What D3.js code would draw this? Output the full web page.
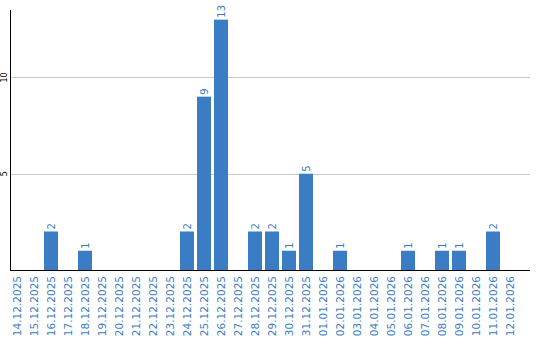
<!DOCTYPE html>
<html>
<head>
<meta charset="utf-8">
<script src="https://cdn.jsdelivr.net/npm/d3@7"></script>
<style>
  body { margin: 0; background: #fff; }
  svg { display: block; }
</style>
</head>
<body>
<div id="chart"></div>
<script>
const dates = [
  "14.12.2025", "15.12.2025", "16.12.2025", "17.12.2025", "18.12.2025",
  "19.12.2025", "20.12.2025", "21.12.2025", "22.12.2025", "23.12.2025",
  "24.12.2025", "25.12.2025", "26.12.2025", "27.12.2025", "28.12.2025",
  "29.12.2025", "30.12.2025", "31.12.2025", "01.01.2026", "02.01.2026",
  "03.01.2026", "04.01.2026", "05.01.2026", "06.01.2026", "07.01.2026",
  "08.01.2026", "09.01.2026", "10.01.2026", "11.01.2026", "12.01.2026"
];
const counts = [
  0, 0, 2, 0, 1,
  0, 0, 0, 0, 0,
  2, 9, 13, 0, 2,
  2, 1, 5, 0, 1,
  0, 0, 0, 1, 0,
  1, 1, 0, 2, 0
];
const yTicks = [5, 10];

const data = dates.map((d, i) => ({ date: d, value: counts[i] }));

const width = 540;
const height = 340;
const marginLeft = 10;
const marginTop = 10;
const plotRight = 530;
const baseline = 270;
const blue = "#3b7dc4";
const font = "Verdana, 'DejaVu Sans', sans-serif";

const x = d3.scaleBand()
    .domain(dates)
    .range([marginLeft, 517])
    .paddingInner(3 / 17)
    .paddingOuter(0)
    .align(0);

const y = d3.scaleLinear()
    .domain([0, 13.5])
    .range([baseline, marginTop]);

const svg = d3.create("svg")
    .attr("width", width)
    .attr("height", height)
    .attr("viewBox", [0, 0, width, height]);

// gridlines
svg.append("g")
    .selectAll("line")
    .data(yTicks)
    .join("line")
      .attr("x1", marginLeft)
      .attr("x2", plotRight)
      .attr("y1", d => Math.round(y(d)) + 0.5)
      .attr("y2", d => Math.round(y(d)) + 0.5)
      .attr("stroke", "#c8c8c8")
      .attr("stroke-width", 1);

// y tick labels, rotated
svg.append("g")
    .attr("font-family", font)
    .attr("font-size", 8)
    .selectAll("text")
    .data(yTicks)
    .join("text")
      .attr("transform", d => `translate(7,${y(d)}) rotate(-90)`)
      .attr("text-anchor", "middle")
      .attr("fill", "#000")
      .text(d => d);

// bars
svg.append("g")
    .attr("fill", blue)
    .selectAll("rect")
    .data(data.filter(d => d.value > 0))
    .join("rect")
      .attr("x", d => x(d.date))
      .attr("y", d => y(d.value))
      .attr("width", x.bandwidth())
      .attr("height", d => y(0) - y(d.value));

// value labels
svg.append("g")
    .attr("font-family", font)
    .attr("font-size", 10)
    .attr("fill", blue)
    .selectAll("text")
    .data(data.filter(d => d.value > 0))
    .join("text")
      .attr("transform", d => `translate(${x(d.date) + x.bandwidth() / 2 + 3.5},${y(d.value) - 2}) rotate(-90)`)
      .attr("text-anchor", "start")
      .text(d => d.value);

// axes lines
svg.append("line")
    .attr("x1", marginLeft + 0.5)
    .attr("x2", marginLeft + 0.5)
    .attr("y1", marginTop)
    .attr("y2", baseline)
    .attr("stroke", "#000");

svg.append("line")
    .attr("x1", marginLeft)
    .attr("x2", plotRight)
    .attr("y1", baseline + 0.5)
    .attr("y2", baseline + 0.5)
    .attr("stroke", "#000");

// date labels
svg.append("g")
    .attr("font-family", font)
    .attr("font-size", 10.5)
    .attr("fill", blue)
    .selectAll("text")
    .data(dates)
    .join("text")
      .attr("transform", d => `translate(${x(d) + x.bandwidth() / 2 + 4},${baseline + 6}) rotate(-90)`)
      .attr("text-anchor", "end")
      .text(d => d);

d3.select("#chart").node().append(svg.node());
</script>
</body>
</html>
